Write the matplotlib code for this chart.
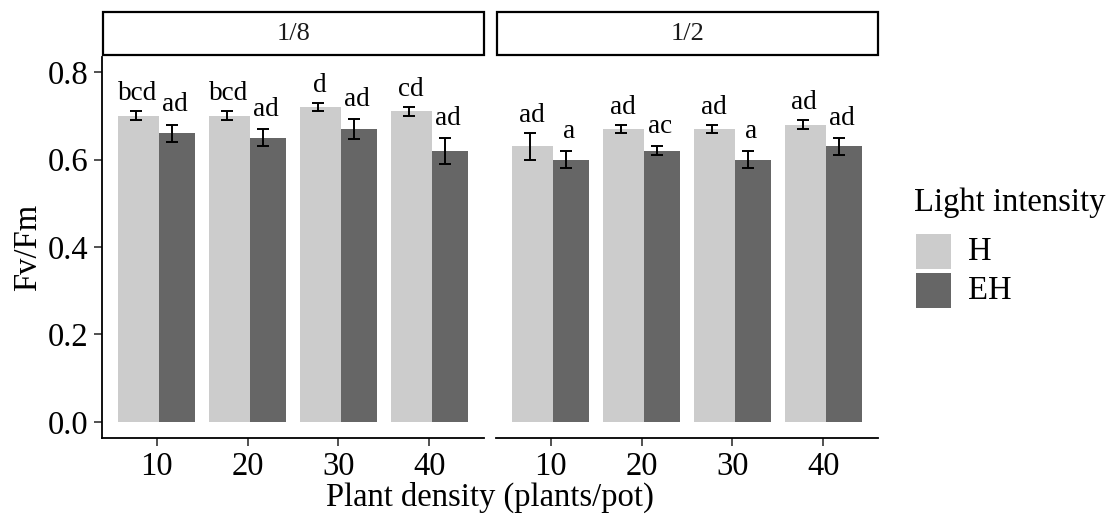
import numpy as np
import matplotlib
matplotlib.use("Agg")
import matplotlib.pyplot as plt
from matplotlib.patches import Rectangle

plt.rcParams['font.family'] = ['Liberation Serif', 'DejaVu Serif']

densities = ['10', '20', '30', '40']
panels = ['1/8', '1/2']

# mean Fv/Fm, standard error and letters, per panel
h_mean = [[0.70, 0.70, 0.72, 0.71], [0.63, 0.67, 0.67, 0.68]]
h_se = [[0.01, 0.01, 0.01, 0.01], [0.03, 0.01, 0.01, 0.01]]
h_lab = [['bcd', 'bcd', 'd', 'cd'], ['ad', 'ad', 'ad', 'ad']]

eh_mean = [[0.66, 0.65, 0.67, 0.62], [0.60, 0.62, 0.60, 0.63]]
eh_se = [[0.02, 0.02, 0.022, 0.03], [0.02, 0.01, 0.02, 0.02]]
eh_lab = [['ad', 'ad', 'ad', 'ad'], ['a', 'ac', 'a', 'ad']]

yticks = [0.0, 0.2, 0.4, 0.6, 0.8]

c_h = '#cccccc'
c_eh = '#666666'
fs = 23.5

W, H = 1114, 518
fig = plt.figure(figsize=(W / 100, H / 100), dpi=100)

def fx(px):
    return px / W

def fy(py):
    return 1 - py / H

panel_left = [102, 496]
panel_w = 382
top, bottom = 57, 437.7

x = np.arange(len(densities))
for k, name in enumerate(panels):
    ax = fig.add_axes([fx(panel_left[k]), fy(bottom), panel_w / W, (bottom - top) / H])
    ax.bar(x - 0.42, h_mean[k], width=0.445, align='edge', color=c_h)
    ax.bar(x + 0.025, eh_mean[k], width=0.40, align='edge', color=c_eh)
    ax.errorbar(x - 0.23, h_mean[k], yerr=h_se[k], fmt='none', ecolor='black',
                elinewidth=1.4, capsize=4.5, capthick=1.4)
    ax.errorbar(x + 0.17, eh_mean[k], yerr=eh_se[k], fmt='none', ecolor='black',
                elinewidth=1.4, capsize=4.5, capthick=1.4)
    for i in range(len(densities)):
        ax.text(x[i] - 0.21, h_mean[k][i] + h_se[k][i] + 0.025, h_lab[k][i],
                ha='center', va='baseline', fontsize=19.5)
        ax.text(x[i] + 0.205, eh_mean[k][i] + eh_se[k][i] + 0.03, eh_lab[k][i],
                ha='center', va='baseline', fontsize=19.5)
    ax.set_xlim(-0.6, 3.6)
    ax.set_ylim(-0.0359, 0.8343)
    ax.set_xticks(x)
    ax.set_xticklabels(densities, fontsize=fs)
    ax.set_yticks(yticks)
    ax.set_yticklabels([f'{v:.1f}' for v in yticks], fontsize=fs)
    for s in ['top', 'right']:
        ax.spines[s].set_visible(False)
    ax.spines['bottom'].set_linewidth(1.3)
    ax.spines['left'].set_linewidth(1.3)
    ax.tick_params(length=6, width=1.2, color='#333333', pad=4)
    if k == 1:
        ax.spines['left'].set_visible(False)
        ax.tick_params(axis='y', left=False, labelleft=False)

    # facet strip
    sx = panel_left[k] + 1
    strip = Rectangle((fx(sx), fy(55)), (panel_w - 1) / W, 43 / H,
                      transform=fig.transFigure, facecolor='white',
                      edgecolor='black', linewidth=1.6)
    fig.add_artist(strip)
    fig.text(fx(sx + panel_w / 2), fy(33.5), name, ha='center', va='center',
             fontsize=19, color='#1a1a1a')

fig.text(fx(490), fy(497), 'Plant density (plants/pot)', ha='center', va='center',
         fontsize=fs)
fig.text(fx(28), fy(247), 'Fv/Fm', ha='center', va='center', rotation=90,
         fontsize=fs)

# legend
fig.text(fx(914), fy(203), 'Light intensity', ha='left', va='center', fontsize=fs)
for name, col, ytop in [('H', c_h, 234), ('EH', c_eh, 273)]:
    fig.add_artist(Rectangle((fx(916), fy(ytop + 35)), 35 / W, 35 / H,
                             transform=fig.transFigure, facecolor=col,
                             edgecolor='none'))
    fig.text(fx(968), fy(ytop + 18), name, ha='left', va='center', fontsize=fs)

fig.savefig('out.png', dpi=100)
